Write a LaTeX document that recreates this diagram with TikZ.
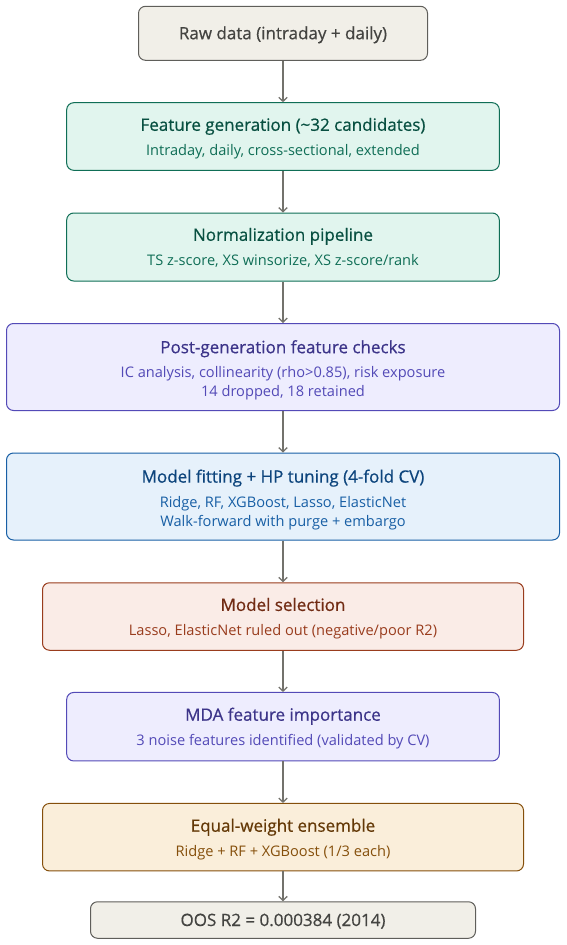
\documentclass[tikz,border=0pt]{standalone}
\usepackage{fontspec}
\setmainfont{Open Sans}
\newfontfamily\titlefont{Open Sans}[FakeBold=0.6]
\usetikzlibrary{arrows.meta}
\definecolor{grayfill}{HTML}{F1EFE8}
\definecolor{grayline}{HTML}{5F5E5A}
\definecolor{graytext}{HTML}{444441}
\definecolor{greenfill}{HTML}{E1F5EE}
\definecolor{greenline}{HTML}{0F6E56}
\definecolor{greentitle}{HTML}{085041}
\definecolor{purplefill}{HTML}{EEEDFE}
\definecolor{purpleline}{HTML}{534AB7}
\definecolor{purpletitle}{HTML}{3C3489}
\definecolor{bluefill}{HTML}{E6F1FB}
\definecolor{blueline}{HTML}{185FA5}
\definecolor{bluetitle}{HTML}{0C447C}
\definecolor{coralfill}{HTML}{FAECE7}
\definecolor{coralline}{HTML}{993C1D}
\definecolor{coraltitle}{HTML}{712B13}
\definecolor{amberfill}{HTML}{FAEEDA}
\definecolor{amberline}{HTML}{854F0B}
\definecolor{ambertitle}{HTML}{633806}
\definecolor{arrowgray}{HTML}{73726C}
\tikzset{
  box/.style={rounded corners=7pt, line width=1pt, inner sep=0pt},
  graybox/.style={box, draw=grayline, fill=grayfill},
  greenbox/.style={box, draw=greenline, fill=greenfill},
  purplebox/.style={box, draw=purpleline, fill=purplefill},
  bluebox/.style={box, draw=blueline, fill=bluefill},
  coralbox/.style={box, draw=coralline, fill=coralfill},
  amberbox/.style={box, draw=amberline, fill=amberfill},
  ttl/.style={font=\titlefont\fontsize{17}{19}\selectfont, inner sep=0pt, anchor=base},
  subt/.style={font=\fontsize{14.6}{17}\selectfont, inner sep=0pt, anchor=base},
  conn/.style={draw=arrowgray, line width=1.3pt, -{Straight Barb[length=4pt,width=8.5pt]}}
}
\begin{document}
\begin{tikzpicture}[x=1pt,y=-1pt]
\useasboundingbox (0,0) rectangle (566,945);
% boxes
\node[graybox, minimum width=289pt, minimum height=54pt] (b1) at (283,33.3) {};
\node[greenbox, minimum width=432.6pt, minimum height=67.6pt] (b2) at (283,136.5) {};
\node[greenbox, minimum width=432.6pt, minimum height=68pt] (b3) at (283,247) {};
\node[purplebox, minimum width=553pt, minimum height=87pt] (b4) at (283,367) {};
\node[bluebox, minimum width=553pt, minimum height=87pt] (b5) at (283,496.5) {};
\node[coralbox, minimum width=481pt, minimum height=67.5pt] (b6) at (283,616.5) {};
\node[purplebox, minimum width=432.6pt, minimum height=68.5pt] (b7) at (283,726.7) {};
\node[amberbox, minimum width=481pt, minimum height=67.5pt] (b8) at (283,837.2) {};
\node[graybox, minimum width=385pt, minimum height=36.5pt] (b9) at (283,920) {};
% texts
\node[ttl, text=graytext] (t1) at (283,39.2) {Raw data (intraday + daily)};
\node[ttl, text=greentitle] (t2) at (283,130.8) {Feature generation (\textasciitilde32 candidates)};
\node[subt, text=greenline] (s2) at (283,155.3) {Intraday, daily, cross-sectional, extended};
\node[ttl, text=greentitle] (t3) at (283,240.8) {Normalization pipeline};
\node[subt, text=greenline] (s3) at (283,265.3) {TS z-score, XS winsorize, XS z-score/rank};
\node[ttl, text=purpletitle] (t4) at (283,353.2) {Post-generation feature checks};
\node[subt, text=purpleline] (s4a) at (283,377.6) {IC analysis, collinearity (rho>0.85), risk exposure};
\node[subt, text=purpleline] (s4b) at (283,396.6) {14 dropped, 18 retained};
\node[ttl, text=bluetitle] (t5) at (283,482.6) {Model fitting + HP tuning (4-fold CV)};
\node[subt, text=blueline] (s5a) at (283,507) {Ridge, RF, XGBoost, Lasso, ElasticNet};
\node[subt, text=blueline] (s5b) at (283,526) {Walk-forward with purge + embargo};
\node[ttl, text=coraltitle] (t6) at (283,610.9) {Model selection};
\node[subt, text=coralline] (s6) at (283,635.3) {Lasso, ElasticNet ruled out (negative/poor R2)};
\node[ttl, text=purpletitle] (t7) at (283,720.7) {MDA feature importance};
\node[subt, text=purpleline] (s7) at (283,745.1) {3 noise features identified (validated by CV)};
\node[ttl, text=ambertitle] (t8) at (283,831.7) {Equal-weight ensemble};
\node[subt, text=amberline] (s8) at (283,856.1) {Ridge + RF + XGBoost (1/3 each)};
\node[ttl, text=graytext] (t9) at (283,926) {OOS R2 = 0.000384 (2014)};
% connectors
\draw[conn] (b1.south) -- (b2.north);
\draw[conn] (b2.south) -- (b3.north);
\draw[conn] (b3.south) -- (b4.north);
\draw[conn] (b4.south) -- (b5.north);
\draw[conn] (b5.south) -- (b6.north);
\draw[conn] (b6.south) -- (b7.north);
\draw[conn] (b7.south) -- (b8.north);
\draw[conn] (b8.south) -- (b9.north);
\end{tikzpicture}
\end{document}
